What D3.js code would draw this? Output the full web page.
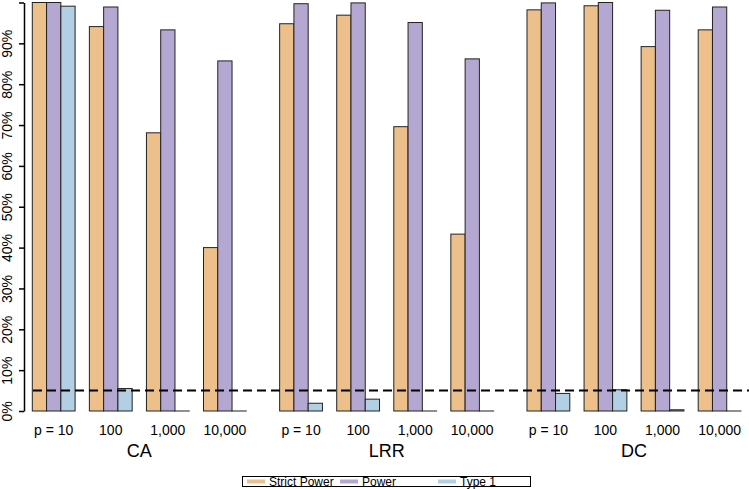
<!DOCTYPE html>
<html>
<head>
<meta charset="utf-8">
<script src="https://cdn.jsdelivr.net/npm/d3@7"></script>
<style>
  html, body { margin: 0; padding: 0; background: #fff; }
  svg { display: block; font-family: "Liberation Sans", Arial, sans-serif; }
</style>
</head>
<body>
<svg id="chart" width="749" height="489"></svg>
<script>
const methods = ["CA", "LRR", "DC"];
const groups = ["p = 10", "100", "1,000", "10,000"];
const seriesNames = ["Strict Power", "Power", "Type 1"];
const strictPower = [100, 94.1, 68.1, 40.0, 94.8, 96.9, 69.6, 43.3, 98.2, 99.2, 89.2, 93.3];
const power = [100, 98.9, 93.3, 85.7, 99.7, 99.9, 95.1, 86.2, 99.9, 100, 98.1, 98.9];
const type1 = [99.1, 5.5, 0, 0, 1.9, 2.9, 0, 0, 4.3, 5.2, 0.3, 0];
const yTicks = [0, 10, 20, 30, 40, 50, 60, 70, 80, 90, 100];
const threshold = 5;

const colors = ["#EDC08B", "#B4A7D1", "#B3CFE3"];
const seriesValues = [strictPower, power, type1];

const svg = d3.select("#chart");

const x0 = d3.scaleBand().domain(methods).range([32.3, 741]).paddingInner(0.1348).paddingOuter(0);
const x1 = d3.scaleBand().domain(groups).range([0, x0.bandwidth()]).paddingInner(0.25).paddingOuter(0);
const x2 = d3.scaleBand().domain(seriesNames).range([0, x1.bandwidth()]).padding(0);
const y = d3.scaleLinear().domain([0, 100]).range([411, 2.5]);

// build bar records
const bars = [];
methods.forEach((m, mi) => {
  groups.forEach((g, gi) => {
    seriesNames.forEach((s, si) => {
      bars.push({ m, g, s, si, v: seriesValues[si][mi * groups.length + gi] });
    });
  });
});

svg.append("g").selectAll("rect").data(bars).enter().append("rect")
  .attr("x", d => x0(d.m) + x1(d.g) + x2(d.s))
  .attr("y", d => Math.min(y(d.v), y(0) - 0.01))
  .attr("width", x2.bandwidth())
  .attr("height", d => Math.max(y(0) - y(d.v), 0.01))
  .attr("fill", d => colors[d.si])
  .attr("stroke", "#222")
  .attr("stroke-width", 1);

// threshold dashed line
svg.append("line")
  .attr("x1", 33).attr("x2", 749)
  .attr("y1", y(threshold)).attr("y2", y(threshold))
  .attr("stroke", "#000").attr("stroke-width", 2)
  .attr("stroke-dasharray", "9,5");

// y axis
const yAxis = svg.append("g").attr("transform", "translate(24,0)")
  .call(d3.axisLeft(y).tickValues(yTicks).tickSize(5).tickSizeOuter(0)
    .tickFormat(d => d < 100 ? d + "%" : ""));
yAxis.select(".domain").attr("stroke", "#000").attr("stroke-width", 1.5);
yAxis.selectAll(".tick line").attr("stroke", "#000").attr("stroke-width", 1.5);
yAxis.selectAll(".tick text")
  .attr("x", null).attr("dy", null)
  .attr("transform", "translate(-12,0) rotate(-90)")
  .attr("text-anchor", "middle")
  .attr("font-size", 14)
  .attr("fill", "#000")
  .style("font-family", "Liberation Sans, Arial, sans-serif");

// group labels
const glabels = [];
methods.forEach(m => groups.forEach(g => glabels.push({ m, g })));
svg.append("g").selectAll("text").data(glabels).enter().append("text")
  .attr("x", d => x0(d.m) + x1(d.g) + x1.bandwidth() / 2)
  .attr("y", 434.5)
  .attr("text-anchor", "middle")
  .attr("font-size", 14)
  .attr("fill", "#000")
  .text(d => d.g);

// method labels
svg.append("g").selectAll("text").data(methods).enter().append("text")
  .attr("x", d => x0(d) + x0.bandwidth() / 2)
  .attr("y", 456.5)
  .attr("text-anchor", "middle")
  .attr("font-size", 18)
  .attr("fill", "#000")
  .text(d => d);

// legend
const legend = svg.append("g");
legend.append("rect")
  .attr("x", 242.5).attr("y", 476.5).attr("width", 288).attr("height", 10)
  .attr("fill", "#fff").attr("stroke", "#000").attr("stroke-width", 1);
const legX = [247, 340, 438];
const legItems = legend.selectAll("g.item").data(seriesNames).enter().append("g").attr("class", "item");
legItems.append("line")
  .attr("x1", (d, i) => legX[i]).attr("x2", (d, i) => legX[i] + 18)
  .attr("y1", 481.5).attr("y2", 481.5)
  .attr("stroke", (d, i) => colors[i]).attr("stroke-width", 4);
legItems.append("text")
  .attr("x", (d, i) => legX[i] + 22)
  .attr("y", 486)
  .attr("font-size", 12)
  .attr("fill", "#000")
  .text(d => d);
</script>
</body>
</html>
